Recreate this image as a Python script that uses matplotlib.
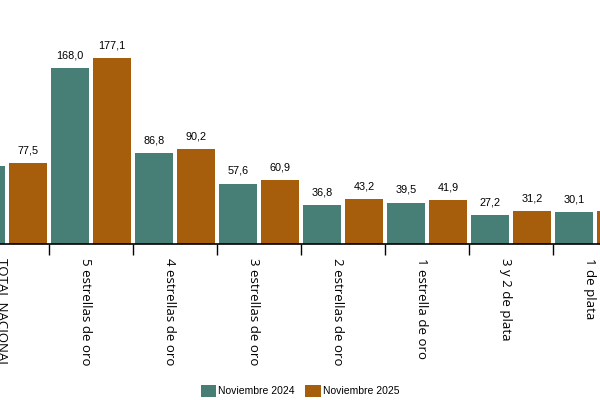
import matplotlib.pyplot as plt
import matplotlib.transforms as mtransforms
import numpy as np

categorias = ["TOTAL NACIONAL", "5 estrellas de oro", "4 estrellas de oro",
              "3 estrellas de oro", "2 estrellas de oro", "1 estrella de oro",
              "3 y 2 de plata", "1 de plata"]
nov_2024 = [74.0, 168.0, 86.8, 57.6, 36.8, 39.5, 27.2, 30.1]
nov_2025 = [77.5, 177.1, 90.2, 60.9, 43.2, 41.9, 31.2, 31.3]

verde = "#477f77"
naranja = "#a65e0d"

fig = plt.figure(figsize=(6, 4), dpi=100)
ax = fig.add_axes([0, 1 - 244 / 400, 1, 244 / 400])

x = np.arange(len(categorias))
w = 0.45
b1 = ax.bar(x - 0.25, nov_2024, w, color=verde, label="Noviembre 2024")
b2 = ax.bar(x + 0.25, nov_2025, w, color=naranja, label="Noviembre 2025")

for bars, vals in [(b1, nov_2024), (b2, nov_2025)]:
    for r, v in zip(bars, vals):
        ax.annotate(f"{v:.1f}".replace(".", ","),
                    (r.get_x() + r.get_width() / 2, v),
                    xytext=(0, 5.5), textcoords="offset points",
                    ha="center", va="bottom", fontsize=7.8,
                    family="Liberation Sans")

ax.set_xlim(-7 / 84, 593 / 84)
ax.set_ylim(0, 244 / 1.048)

for s in ["top", "left", "right"]:
    ax.spines[s].set_visible(False)
ax.spines["bottom"].set_linewidth(1.2)
ax.set_yticks([])

ax.set_xticks(x)
ax.set_xticklabels(categorias, rotation=270, fontsize=9.5, family="Open Sans",
                   va="top", ha="center")
ax.tick_params(axis="x", which="major", length=0, pad=10)
ax.set_xticks(x[:-1] + 0.5, minor=True)
ax.tick_params(axis="x", which="minor", length=8, width=1)

off = mtransforms.ScaledTranslation(-6 / 100, 0, fig.dpi_scale_trans)
for lab in ax.get_xticklabels():
    lab.set_transform(lab.get_transform() + off)

fig.legend(handles=[b1, b2], loc="center", bbox_to_anchor=(0.5, 1 - 391 / 400),
           ncol=2, frameon=False, handlelength=1.5,
           handleheight=1.5, handletextpad=0.2, columnspacing=1.0,
           prop={"family": "Liberation Sans", "size": 7.5})

fig.savefig("out.png", dpi=100)
